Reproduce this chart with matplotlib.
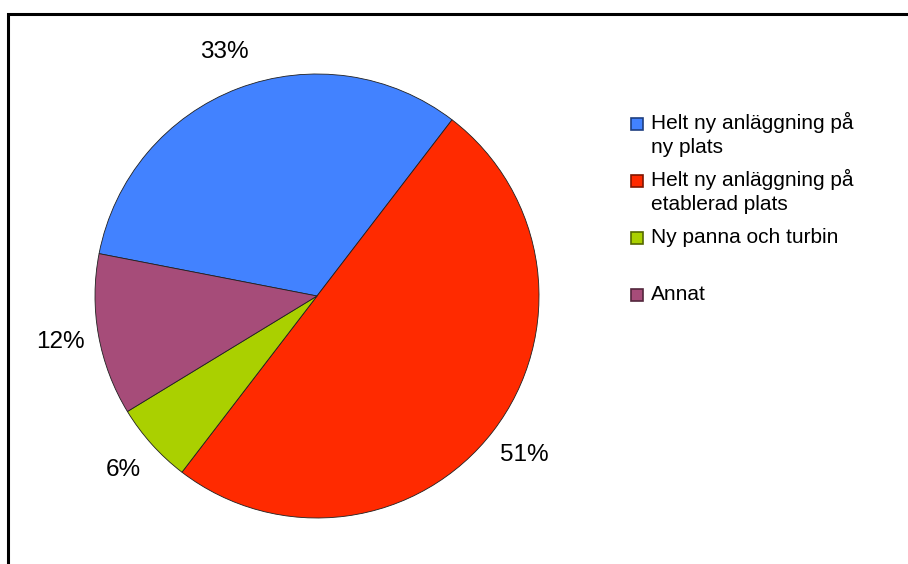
import matplotlib.pyplot as plt
from matplotlib.patches import Rectangle

plt.rcParams['font.family'] = ['Liberation Sans', 'DejaVu Sans']

# andel per typ av anläggning
labels = ['Helt ny anläggning på\nny plats',
          'Helt ny anläggning på\netablerad plats',
          'Ny panna och turbin',
          'Annat']
values = [33, 51, 6, 12]
pct_text = ['33%', '51%', '6%', '12%']
colors = ['#4282ff', '#ff2a00', '#aad000', '#a64c79']
edges = ['#1f3f80', '#801500', '#556800', '#53263c']

W, H = 908, 564
fig = plt.figure(figsize=(W / 100, H / 100), dpi=100)

# ram uppe och till vänster
fig.patches.append(Rectangle((8 / W, -0.1), 1.2, (H - 14) / H + 0.1,
                             transform=fig.transFigure, fill=False,
                             edgecolor='black', linewidth=2.2))

cx, cy, r = 317, 296, 222
ax = fig.add_axes([(cx - r) / W, (H - cy - r) / H, 2 * r / W, 2 * r / H])
wedges, texts = ax.pie(values, labels=pct_text, colors=colors,
                       startangle=169, counterclock=False,
                       labeldistance=1.175,
                       wedgeprops=dict(edgecolor='#202020', linewidth=0.6),
                       textprops=dict(fontsize=17.5, color='black'))
for t in texts:
    t.set_ha('center')
    t.set_va('center')
ax.set_xlim(-1, 1)
ax.set_ylim(-1, 1)
ax.set_aspect('equal')
ax.axis('off')

# legend
y0 = 124
step = 57
for i, lab in enumerate(labels):
    y = y0 + i * step
    fig.patches.append(Rectangle((631 / W, (H - y - 6) / H), 12 / W, 12 / H,
                                 transform=fig.transFigure,
                                 facecolor=colors[i], edgecolor=edges[i],
                                 linewidth=1.2))
    fig.text(651 / W, (H - y - 5) / H, lab.split('\n')[0], fontsize=15,
             va='baseline', ha='left')
    if '\n' in lab:
        fig.text(651 / W, (H - y - 29) / H, lab.split('\n')[1], fontsize=15,
                 va='baseline', ha='left')

fig.savefig('out.png', dpi=100)
